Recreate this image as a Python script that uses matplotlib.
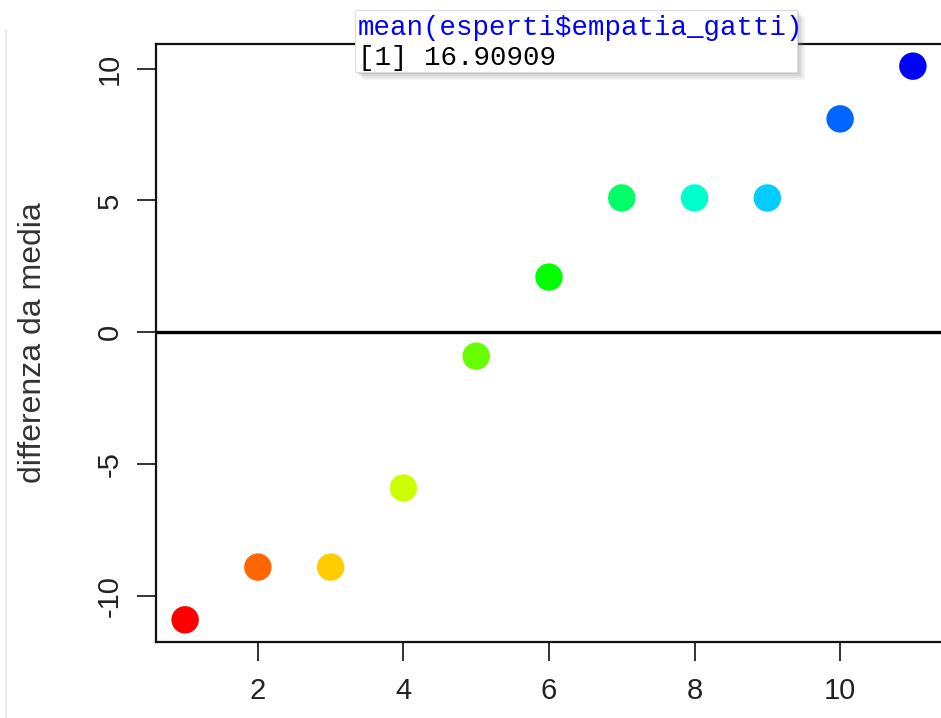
import matplotlib
matplotlib.use("Agg")
import matplotlib.pyplot as plt
from matplotlib.patches import Rectangle

# ---- data ----
index = [1, 2, 3, 4, 5, 6, 7, 8, 9, 10, 11]
diff_from_mean = [-10.909, -8.909, -8.909, -5.909, -0.909, 2.091,
                  5.091, 5.091, 5.091, 8.091, 10.091]
point_colors = ["#FF0000", "#FF6600", "#FFCC00", "#CCFF00", "#66FF00", "#00FF00",
                "#00FF66", "#00FFCC", "#00CCFF", "#0066FF", "#0000FF"]
x_ticks = [2, 4, 6, 8, 10]
y_ticks = [-10, -5, 0, 5, 10]
y_label = "differenza da media"
console_cmd = "mean(esperti$empatia_gatti)"
console_out = "[1] 16.90909"

W, H = 941, 718
fig = plt.figure(figsize=(W / 100, H / 100), dpi=100)
plt.rcParams['font.family'] = ['Liberation Sans', 'DejaVu Sans']

def fx(px):
    return px / W

def fy(py):
    return 1 - py / H

left, right, top, bottom = 156, 942, 44, 642
ax = fig.add_axes([fx(left), fy(bottom), fx(right) - fx(left), fy(top) - fy(bottom)])

ax.axhline(0, color="black", lw=2.4, zorder=1)
ax.scatter(index, diff_from_mean, s=390, c=point_colors, marker="o",
           linewidths=0, zorder=3)

ax.set_xlim(0.6, 11.4)
ax.set_ylim(-11.749, 10.931)
ax.set_xticks(x_ticks)
ax.set_yticks(y_ticks)
ax.set_xticklabels([str(t) for t in x_ticks], fontsize=21, color="#222222")
ax.set_yticklabels([str(t) for t in y_ticks], fontsize=21, color="#222222",
                   rotation=90, va="center")
ax.tick_params(axis="both", length=14, width=1.3, color="#222222", pad=11)
ax.tick_params(axis="y", pad=9)
for s in ax.spines.values():
    s.set_linewidth(1.6)
    s.set_color("#111111")
ax.spines["right"].set_visible(False)

fig.text(fx(33), fy(343), y_label, rotation=90, fontsize=23, color="#333333",
         ha="center", va="center")

# faint screenshot border on the left
fig.add_artist(plt.Line2D([fx(6), fx(6)], [fy(30), fy(718)], color="#E6E6E6", lw=1.2))

# console overlay box with shadow
for i, a in enumerate([0.10, 0.12, 0.16, 0.22]):
    off = 8 - 2 * i
    fig.add_artist(Rectangle((fx(355 + off), fy(72 + off)), fx(442), (72 - 10) / H,
                             transform=fig.transFigure, facecolor="#888888",
                             alpha=a, edgecolor="none", zorder=10))
fig.add_artist(Rectangle((fx(355), fy(72)), fx(442), (72 - 10) / H,
                         transform=fig.transFigure, facecolor="white",
                         edgecolor="#DDDDDD", lw=0.8, zorder=11))
fig.text(fx(358), fy(28), console_cmd, fontsize=19.8, color="#0000FF",
         family=["Liberation Mono", "DejaVu Sans Mono"], ha="left", va="center",
         zorder=12, parse_math=False)
fig.text(fx(358), fy(58), console_out, fontsize=19.8, color="black",
         family=["Liberation Mono", "DejaVu Sans Mono"], ha="left", va="center",
         zorder=12, parse_math=False)

fig.savefig("out.png", dpi=100, facecolor="white")
